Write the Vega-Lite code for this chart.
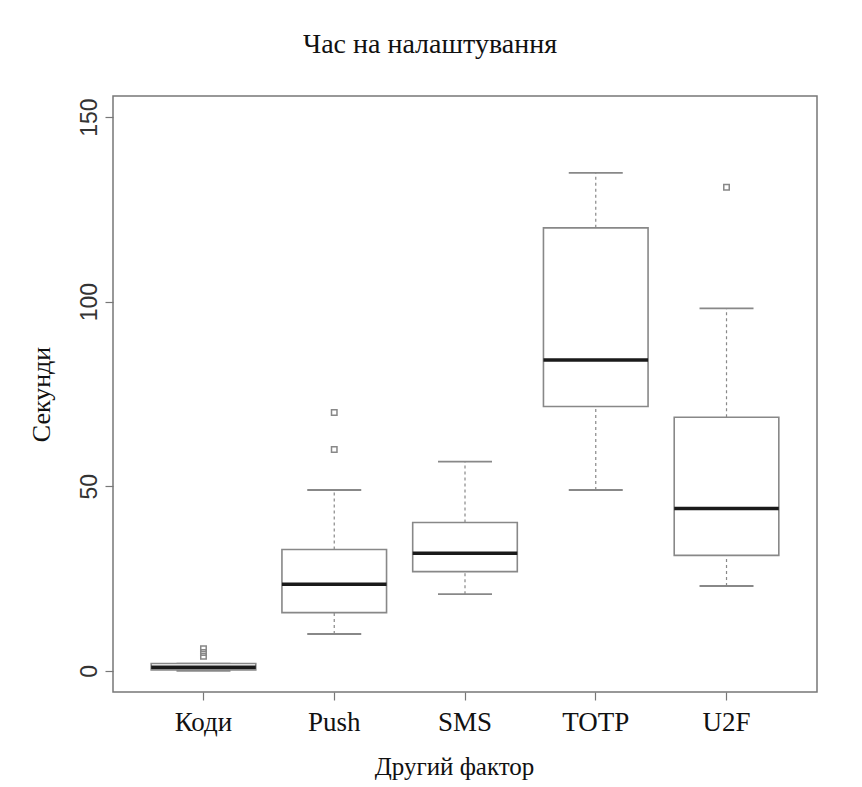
{
  "$schema": "https://vega.github.io/schema/vega-lite/v6.json",
  "autosize": "none",
  "width": 704,
  "height": 596,
  "padding": {"left": 113, "top": 96, "right": 45, "bottom": 95},
  "background": "white",
  "title": {
    "text": "Час на налаштування",
    "font": "Liberation Serif",
    "fontSize": 28,
    "fontWeight": "normal",
    "color": "#111111",
    "anchor": "middle",
    "dx": -35,
    "baseline": "alphabetic",
    "offset": 15
  },
  "datasets": {
    "boxes": [
      {"group": "Коди", "lower": 0, "q1": 0.3, "median": 1, "q3": 2, "upper": 2},
      {"group": "Push", "lower": 10, "q1": 15.8, "median": 23.5, "q3": 32.9, "upper": 49},
      {"group": "SMS", "lower": 20.8, "q1": 26.9, "median": 31.9, "q3": 40.2, "upper": 56.7},
      {"group": "TOTP", "lower": 49, "q1": 71.6, "median": 84.2, "q3": 120, "upper": 134.9},
      {"group": "U2F", "lower": 23, "q1": 31.3, "median": 44, "q3": 68.7, "upper": 98.2}
    ],
    "outliers": [
      {"group": "Коди", "value": 4},
      {"group": "Коди", "value": 5},
      {"group": "Коди", "value": 6},
      {"group": "Push", "value": 60},
      {"group": "Push", "value": 70},
      {"group": "U2F", "value": 131}
    ]
  },
  "data": {"name": "boxes"},
  "encoding": {
    "x": {
      "field": "group",
      "type": "nominal",
      "sort": ["Коди", "Push", "SMS", "TOTP", "U2F"],
      "scale": {"paddingInner": 0.2, "paddingOuter": 0.292},
      "axis": {
        "title": "Другий фактор",
        "labelAngle": 0,
        "labelFont": "Liberation Serif",
        "labelFontSize": 27,
        "labelColor": "#111111",
        "labelPadding": 9,
        "labelBaseline": "top",
        "tickSize": 8,
        "tickColor": "#777777",
        "tickWidth": 1.2,
        "domain": false,
        "titleFont": "Liberation Serif",
        "titleFontSize": 25,
        "titleFontWeight": "normal",
        "titleColor": "#111111",
        "titlePadding": 19,
        "titleX": 341
      }
    }
  },
  "layer": [
    {
      "mark": {"type": "rule", "stroke": "#888888", "strokeWidth": 1.2, "strokeDash": [3, 3]},
      "encoding": {
        "y": {
          "field": "q3",
          "type": "quantitative",
          "scale": {"domain": [-5.7, 155.7], "nice": false, "zero": false},
          "axis": {
            "title": "Секунди",
            "values": [0, 50, 100, 150],
            "grid": false,
            "domain": false,
            "tickSize": 8,
            "tickColor": "#777777",
            "tickWidth": 1.2,
            "labelAngle": -90,
            "labelAlign": "center",
            "labelBaseline": "bottom",
            "labelFont": "Liberation Sans",
            "labelFontSize": 23,
            "labelColor": "#333333",
            "labelPadding": 4,
            "titleFont": "Liberation Serif",
            "titleFontSize": 26,
            "titleFontWeight": "normal",
            "titleColor": "#111111",
            "titlePadding": 24
          }
        },
        "y2": {"field": "upper"}
      }
    },
    {
      "mark": {"type": "rule", "stroke": "#888888", "strokeWidth": 1.2, "strokeDash": [3, 3]},
      "encoding": {
        "y": {"field": "lower", "type": "quantitative"},
        "y2": {"field": "q1"}
      }
    },
    {
      "mark": {"type": "tick", "color": "#888888", "opacity": 1, "size": 54, "thickness": 1.8, "orient": "horizontal"},
      "encoding": {"y": {"field": "upper", "type": "quantitative"}}
    },
    {
      "mark": {"type": "tick", "color": "#888888", "opacity": 1, "size": 54, "thickness": 1.8, "orient": "horizontal"},
      "encoding": {"y": {"field": "lower", "type": "quantitative"}}
    },
    {
      "mark": {"type": "bar", "fill": "white", "stroke": "#888888", "strokeWidth": 1.6},
      "encoding": {
        "y": {"field": "q1", "type": "quantitative"},
        "y2": {"field": "q3"}
      }
    },
    {
      "mark": {"type": "tick", "color": "#1a1a1a", "opacity": 1, "size": 104.6, "thickness": 3.5, "orient": "horizontal"},
      "encoding": {"y": {"field": "median", "type": "quantitative"}}
    },
    {
      "data": {"name": "outliers"},
      "mark": {"type": "point", "shape": "square", "size": 30, "filled": false, "opacity": 1, "stroke": "#888888", "strokeWidth": 1.5},
      "encoding": {"y": {"field": "value", "type": "quantitative"}}
    }
  ],
  "config": {
    "view": {"stroke": "#777777", "strokeWidth": 1.5},
    "axis": {"labelOverlap": false}
  }
}
